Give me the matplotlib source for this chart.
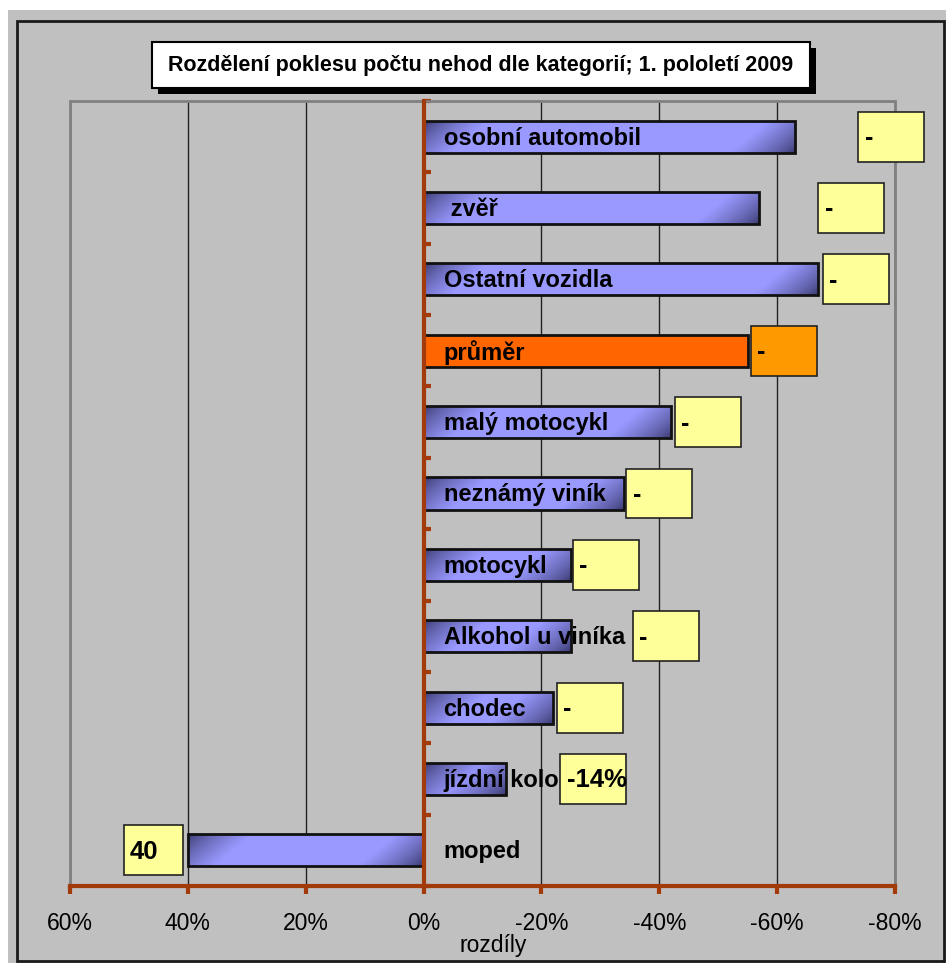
import numpy as np
import matplotlib
matplotlib.use("Agg")
import matplotlib.pyplot as plt
from matplotlib.patches import Rectangle
from matplotlib.ticker import FixedLocator, FuncFormatter

### Data
categories = ["osobní automobil", " zvěř", "Ostatní vozidla", "průměr", "malý motocykl",
              "neznámý viník", "motocykl", "Alkohol u viníka", "chodec", "jízdní kolo", "moped"]
values = [-63, -57, -67, -55, -42, -34, -25, -25, -22, -14, 40]   # % change
box_texts = ["-", "-", "-", "-", "-", "-", "-", "-", "-", "-14%", "40"]
box_left = [-73.8, -67.0, -67.7, -55.5, -42.6, -34.4, -25.3, -35.5, -22.6, -23.2, 50.9]  # label box position
box_width = [11.2] * 10 + [10.0]
x_ticks = [60, 40, 20, 0, -20, -40, -60, -80]
title = "Rozdělení poklesu počtu nehod dle kategorií; 1. pololetí 2009"

W, H = 946, 963
BG = "#C0C0C0"
BROWN = "#A33A0A"
plt.rcParams["font.family"] = ["Liberation Sans", "DejaVu Sans"]

def fx(px):
    return px / W

def fy(py):
    return 1 - py / H

fig = plt.figure(figsize=(W / 100, H / 100), dpi=100, facecolor="white")
# grey chart area + outer border
fig.patches.append(Rectangle((fx(8), 0), 1 - fx(8), fy(10), transform=fig.transFigure,
                             facecolor=BG, edgecolor="none", zorder=-10))
fig.patches.append(Rectangle((fx(17), fy(961)), fx(944) - fx(17), fy(21) - fy(961),
                             transform=fig.transFigure, facecolor="none",
                             edgecolor="#1a1a1a", lw=2, zorder=-9))

ax = fig.add_axes([fx(70), fy(886), fx(895) - fx(70), fy(101) - fy(886)])
ax.set_facecolor(BG)

n = len(categories)
ypos = np.arange(n)[::-1]
bh = 0.45
px_per_unit = (895 - 70) / 140.0
light = np.array([0.6, 0.6, 1.0])
dark = np.array([0.2, 0.2, 0.4])

for y, v, name in zip(ypos, values, categories):
    if name == "průměr":
        ax.barh(y, v, height=bh, color="#FF6600", edgecolor="#111111", lw=2, zorder=3)
    else:
        bar = ax.barh(y, v, height=bh, color=light, edgecolor="none", zorder=2)[0]
        # diagonal gradient dark-light-dark like the Excel fill
        L = abs(v) * px_per_unit
        Hh = 32
        X, Y = np.meshgrid(np.linspace(0, L, max(int(L), 2)), np.linspace(0, Hh, Hh))
        p = X + 1.2 * Y
        pmax = L + 1.2 * Hh
        f = np.clip(np.minimum(p, pmax - p) / 65.0, 0, 1) ** 0.7
        rgb = dark + (light - dark) * f[..., None]
        im = ax.imshow(rgb, extent=(max(0, v), min(0, v), y - bh / 2, y + bh / 2),
                       aspect="auto", origin="upper", zorder=2.5, interpolation="bilinear")
        im.set_clip_path(bar)
        ax.barh(y, v, height=bh, fill=False, edgecolor="#111111", lw=2, zorder=3)
    ax.text(-3.4, y - 0.02, name, ha="left", va="center", fontsize=17,
            fontweight="bold", color="black", zorder=6)

# value label boxes
for y, t, bl, bw, name in zip(ypos, box_texts, box_left, box_width, categories):
    fc = "#FF9900" if name == "průměr" else "#FFFF99"
    ax.add_patch(Rectangle((bl, y - 0.35), -bw, 0.70, facecolor=fc, edgecolor="#222222",
                           lw=1.2, zorder=5, clip_on=False))
    fs = 18 if t == "-" else 18.5
    ax.text(bl - 1.1, y - 0.02, t, ha="left", va="center", fontsize=fs, fontweight="bold",
            zorder=7, clip_on=False)

ax.set_xlim(60, -80)
ax.set_ylim(-0.5, n - 0.5)

# axes styling
for s in ["top", "right"]:
    ax.spines[s].set_visible(False)
ax.spines["left"].set_position(("data", 0))
ax.spines["left"].set_color(BROWN)
ax.spines["left"].set_linewidth(3)
ax.spines["left"].set_zorder(4)
ax.spines["bottom"].set_color(BROWN)
ax.spines["bottom"].set_linewidth(3)
ax.spines["bottom"].set_zorder(4)
ax.add_patch(Rectangle((0, 0), 1, 1, transform=ax.transAxes, fill=False,
                       edgecolor="#808080", lw=2, zorder=1.5, clip_on=False))

ax.yaxis.set_major_locator(FixedLocator(np.arange(n + 1) - 0.5))
ax.tick_params(axis="y", direction="in", length=5, width=3, color=BROWN, labelleft=False)
ax.xaxis.set_major_locator(FixedLocator(x_ticks))
ax.xaxis.set_major_formatter(FuncFormatter(lambda v, pos: f"{int(round(v))}%"))
ax.tick_params(axis="x", direction="out", length=6, width=3, color=BROWN,
               labelsize=16.5, pad=13)
ax.grid(axis="x", color="#222222", lw=1, zorder=1)
ax.set_axisbelow(True)

fig.text(fx(493), fy(945), "rozdíly", ha="center", va="center", fontsize=16.5)

# title box with shadow
fig.patches.append(Rectangle((fx(158), fy(94)), fx(658), fy(42) - fy(88), transform=fig.transFigure,
                             facecolor="black", edgecolor="none", zorder=5))
fig.patches.append(Rectangle((fx(152), fy(88)), fx(658), fy(42) - fy(88), transform=fig.transFigure,
                             facecolor="white", edgecolor="black", lw=1.5, zorder=6))
fig.text(fx(481), fy(66), title, ha="center", va="center", fontsize=15.5, fontweight="bold",
         zorder=7)

fig.savefig("out.png", dpi=100, facecolor=fig.get_facecolor())
